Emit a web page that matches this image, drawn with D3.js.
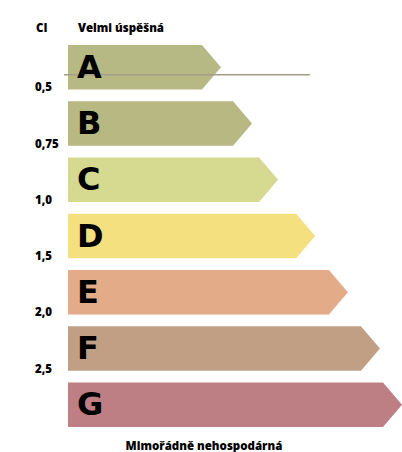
<!DOCTYPE html>
<html>
<head>
<meta charset="utf-8">
<script src="https://cdn.jsdelivr.net/npm/d3@7"></script>
<style>
  body { margin: 0; background: #fff; }
  text { font-family: "Open Sans", "DejaVu Sans", sans-serif; }
</style>
</head>
<body>
<svg id="chart" width="402" height="452"></svg>
<script>
// energy class categories and their bar lengths (% of longest)
var classes = ["A", "B", "C", "D", "E", "F", "G"];
var lengths = [45.8, 55.1, 62.9, 74.0, 83.8, 93.4, 100];
var colors = ["#b7b985", "#b8b883", "#d5da90", "#f4e07e", "#e3ab88", "#c19f85", "#bd7e84"];
var ciLabels = ["0,5", "0,75", "1,0", "1,5", "2,0", "2,5"];
var markerValue = 0.67; // position of the horizontal line within the A band (0..1 of band)

var svg = d3.select("#chart");
var left = 68, right = 402, tipW = 19;

var y = d3.scaleBand()
    .domain(classes)
    .range([45, 427])
    .paddingInner(0.21)
    .paddingOuter(0);

var x = d3.scaleLinear()
    .domain([0, 100])
    .range([left, right]);

var h = y.bandwidth();

function arrow(d, i) {
    var x1 = x(lengths[i]), x0 = x1 - tipW, t = y(d), b = t + h;
    return "M" + left + "," + t + "L" + x0 + "," + t + "L" + x1 + "," + (t + h / 2) +
        "L" + x0 + "," + b + "L" + left + "," + b + "Z";
}

svg.selectAll("path.bar")
    .data(classes)
    .enter().append("path")
    .attr("class", "bar")
    .attr("d", arrow)
    .attr("fill", (d, i) => colors[i]);

// marker line
svg.append("line")
    .attr("x1", 64).attr("x2", 310)
    .attr("y1", y("A") + h * markerValue)
    .attr("y2", y("A") + h * markerValue)
    .attr("stroke", "#a49e88")
    .attr("stroke-width", 1.5);

svg.selectAll("text.letter")
    .data(classes)
    .enter().append("text")
    .attr("class", "letter")
    .attr("x", 77)
    .attr("y", d => y(d) + h / 2 - 1)
    .attr("dy", "0.36em")
    .style("font-family", "'DejaVu Sans', sans-serif")
    .style("font-weight", "900")
    .style("font-size", "32px")
    .text(d => d);

svg.selectAll("text.ci")
    .data(ciLabels)
    .enter().append("text")
    .attr("class", "ci")
    .attr("x", 35)
    .attr("y", (d, i) => y(classes[i]) + h + 2)
    .style("font-weight", "800")
    .style("font-size", "11.5px")
    .text(d => d);

svg.append("text")
    .attr("x", 36).attr("y", 32)
    .style("font-weight", "800").style("font-size", "11.5px")
    .text("CI");

svg.append("text")
    .attr("x", 78).attr("y", 32)
    .style("font-weight", "800").style("font-size", "11.5px")
    .text("Velmi úspěšná");

svg.append("text")
    .attr("x", 204).attr("y", 450)
    .attr("text-anchor", "middle")
    .style("font-weight", "800").style("font-size", "11.5px")
    .text("Mimořádně nehospodárná");
</script>
</body>
</html>
